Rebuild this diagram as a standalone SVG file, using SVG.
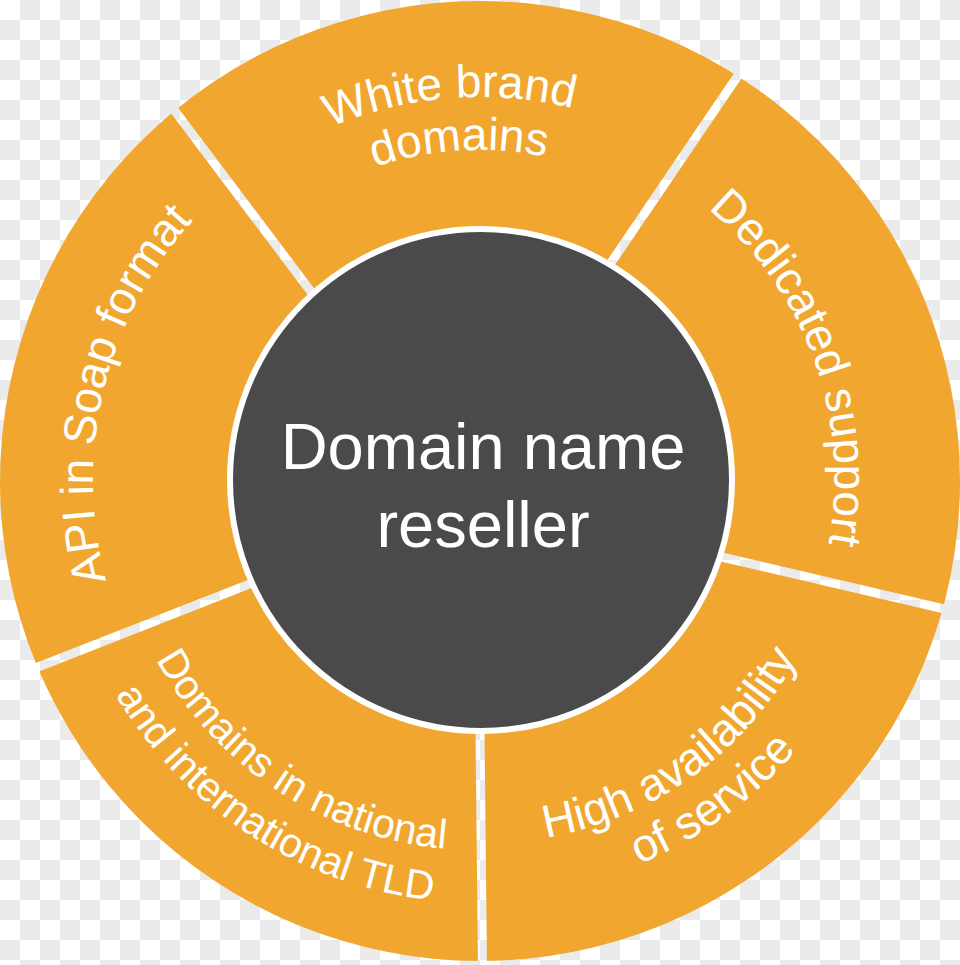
<svg xmlns="http://www.w3.org/2000/svg" xmlns:xlink="http://www.w3.org/1999/xlink" width="960" height="965" viewBox="0 0 960 965">
  <defs>
    <pattern id="checker" x="0" y="0" width="40" height="40" patternUnits="userSpaceOnUse">
      <rect width="40" height="40" fill="#ffffff"/>
      <rect x="20" y="0" width="20" height="20" fill="#ebebeb"/>
      <rect x="0" y="20" width="20" height="20" fill="#ebebeb"/>
    </pattern>
    <path id="p-wb1" d="M510.05,861.82 A383,383 0 0 1 449.95,98.18 A383,383 0 0 1 510.05,861.82"/>
    <path id="p-wb2" d="M500.43,809.37 A330,330 0 0 1 459.57,150.63 A330,330 0 0 1 500.43,809.37"/>
    <path id="p-ds" d="M145.99,600.25 A355,355 0 0 1 814.01,359.75 A355,355 0 0 1 145.99,600.25"/>
    <path id="p-ha1" d="M267.53,183.23 A365,365 0 0 0 692.47,776.77 A365,365 0 0 0 267.53,183.23"/>
    <path id="p-ha2" d="M235.48,143.45 A416,416 0 0 0 724.52,816.55 A416,416 0 0 0 235.48,143.45"/>
    <path id="p-dn1" d="M683.14,169.56 A371,371 0 0 0 276.86,790.44 A371,371 0 0 0 683.14,169.56"/>
    <path id="p-dn2" d="M710.38,125.24 A423,423 0 0 0 249.62,834.76 A423,423 0 0 0 710.38,125.24"/>
    <path id="p-api" d="M856.31,570.35 A387,387 0 0 1 103.69,389.65 A387,387 0 0 1 856.31,570.35"/>
  </defs>
  <style>
    .ring { fill: #f1a72f; }
    .gap { stroke: url(#checker); stroke-width: 9; fill: none; }
    .hub { fill: #4a4a4c; stroke: #ffffff; stroke-width: 6; }
    .seg { font-family: "Liberation Sans", Arial, sans-serif; font-size: 46px; fill: #ffffff; }
    .small { font-size: 41px; }
    .hubtext { font-family: "Liberation Sans", Arial, sans-serif; font-size: 65px; fill: #ffffff; text-anchor: middle; }
  </style>

  <rect width="960" height="965" fill="url(#checker)"/>
  <circle class="ring" cx="480" cy="481" r="480"/>

  <g id="connectors">
    <line class="gap" x1="330" y1="317" x2="149.6" y2="77.4"/>
    <line class="gap" x1="600" y1="279" x2="759.4" y2="43.9"/>
    <line class="gap" x1="700" y1="552" x2="975" y2="616"/>
    <line class="gap" x1="480" y1="730" x2="482.5" y2="970"/>
    <line class="gap" x1="270" y1="576" x2="5" y2="680"/>
  </g>

  <g id="white-brand">
    <text class="seg"><textPath href="#p-wb1" xlink:href="#p-wb1" startOffset="50%" text-anchor="middle">White brand</textPath></text>
    <text class="seg"><textPath href="#p-wb2" xlink:href="#p-wb2" startOffset="50%" text-anchor="middle">domains</textPath></text>
  </g>
  <g id="dedicated-support">
    <text class="seg"><textPath href="#p-ds" xlink:href="#p-ds" startOffset="50%" text-anchor="middle">Dedicated support</textPath></text>
  </g>
  <g id="high-availability">
    <text class="seg"><textPath href="#p-ha1" xlink:href="#p-ha1" startOffset="50%" text-anchor="middle">High availability</textPath></text>
    <text class="seg"><textPath href="#p-ha2" xlink:href="#p-ha2" startOffset="50%" text-anchor="middle">of service</textPath></text>
  </g>
  <g id="domains-tld">
    <text class="seg small"><textPath href="#p-dn1" xlink:href="#p-dn1" startOffset="50%" text-anchor="middle">Domains in national</textPath></text>
    <text class="seg small"><textPath href="#p-dn2" xlink:href="#p-dn2" startOffset="50%" text-anchor="middle">and international TLD</textPath></text>
  </g>
  <g id="api-soap">
    <text class="seg"><textPath href="#p-api" xlink:href="#p-api" startOffset="50%" text-anchor="middle">API in Soap format</textPath></text>
  </g>

  <g id="hub">
    <circle class="hub" cx="481" cy="480" r="251"/>
    <text class="hubtext" x="483" y="469">Domain name</text>
    <text class="hubtext" x="483" y="547">reseller</text>
  </g>
</svg>
